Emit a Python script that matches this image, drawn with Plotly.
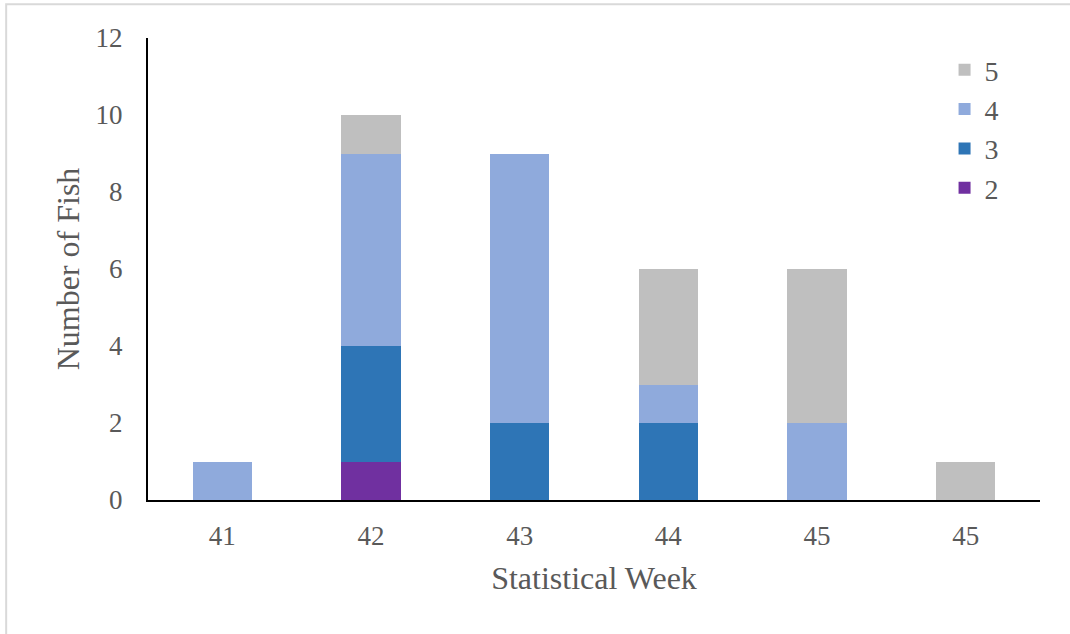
import plotly.graph_objects as go

# Statistical week labels (the last week label repeats)
weeks = ["41", "42", "43", "44", "45", "45"]
positions = [0, 1, 2, 3, 4, 5]

# Number of fish by age group per week
age2 = [0, 1, 0, 0, 0, 0]
age3 = [0, 3, 2, 2, 0, 0]
age4 = [1, 5, 7, 1, 2, 0]
age5 = [0, 1, 0, 3, 4, 1]

series = [
    ("2", age2, "#7030A0"),
    ("3", age3, "#2E75B6"),
    ("4", age4, "#8FAADC"),
    ("5", age5, "#BFBFBF"),
]

serif = "Liberation Serif, Times New Roman, serif"
text_color = "#595959"


def tfont(size):
    return dict(family=serif, size=size, color=text_color)


fig = go.Figure()
for name, vals, color in series:
    fig.add_trace(go.Bar(
        x=positions,
        y=vals,
        name=name,
        marker=dict(color=color, line=dict(width=0)),
    ))

fig.update_layout(
    barmode="stack",
    bargap=0.6,
    width=1070,
    height=634,
    margin=dict(l=148, r=30, t=38, b=134),
    paper_bgcolor="white",
    plot_bgcolor="white",
    font=tfont(27),
    legend=dict(
        traceorder="reversed",
        x=0.893,
        y=0.985,
        xanchor="left",
        yanchor="top",
        font=tfont(28),
        bgcolor="rgba(0,0,0,0)",
        tracegroupgap=0,
    ),
    xaxis=dict(
        tickmode="array",
        tickvals=positions,
        ticktext=weeks,
        range=[-0.5, 5.5],
        showline=True,
        linecolor="black",
        linewidth=2,
        ticks="",
        showgrid=False,
        zeroline=False,
        tickfont=tfont(27),
        ticklabelstandoff=11,
        title=dict(text="Statistical Week", font=tfont(32), standoff=16),
    ),
    yaxis=dict(
        range=[0, 12],
        dtick=2,
        showline=True,
        linecolor="black",
        linewidth=2,
        ticks="",
        showgrid=False,
        zeroline=False,
        tickfont=tfont(27),
        ticklabelstandoff=18,
        title=dict(text="Number of Fish", font=tfont(32), standoff=6),
    ),
    shapes=[
        dict(type="rect", xref="paper", yref="paper",
             x0=-0.159, y0=-0.35, x1=1.2, y1=1.073,
             line=dict(color="#D9D9D9", width=2), fillcolor="rgba(0,0,0,0)",
             layer="below"),
    ],
)

fig.write_html("out.html")
